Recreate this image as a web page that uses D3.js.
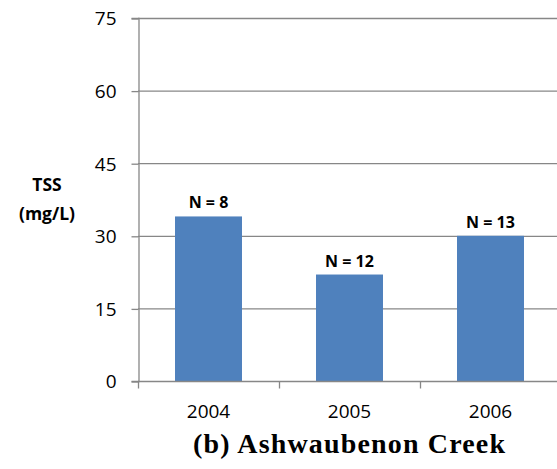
<!DOCTYPE html>
<html>
<head>
<meta charset="utf-8">
<script src="https://cdn.jsdelivr.net/npm/d3@7"></script>
<style>
  body { margin: 0; background: #fff; }
  text { font-family: "Open Sans", Lato, sans-serif; }
</style>
</head>
<body>
<script>
// chart data
let years = ["2004", "2005", "2006"];
let tss = [34, 22, 30];
let sampleCounts = ["N = 8", "N = 12", "N = 13"];
let yTicks = [0, 15, 30, 45, 60, 75];

let width = 557, height = 469;
let plotLeft = 138, plotRight = 561, plotTop = 18, plotBottom = 381;
let gridColor = "#878787";

let svg = d3.select("body").append("svg")
    .attr("width", width)
    .attr("height", height);

let x = d3.scaleBand()
    .domain(years)
    .range([plotLeft, plotRight])
    .paddingInner(0.525)
    .paddingOuter(0.2625);

let y = d3.scaleLinear()
    .domain([0, 75])
    .range([plotBottom, plotTop]);

// gridlines
svg.append("g")
    .selectAll("line")
    .data(yTicks.filter(d => d > 0))
    .join("line")
    .attr("x1", plotLeft)
    .attr("x2", plotRight)
    .attr("y1", d => y(d) + 0.5)
    .attr("y2", d => y(d) + 0.5)
    .attr("stroke", gridColor)
    .attr("stroke-width", 1.3);

// y axis
let yAxis = svg.append("g")
    .attr("transform", `translate(${plotLeft + 0.5},0)`)
    .call(d3.axisLeft(y).tickValues(yTicks).tickSize(7).tickPadding(15));
yAxis.select(".domain").attr("stroke", gridColor).attr("stroke-width", 1.3);
yAxis.selectAll(".tick line").attr("stroke", gridColor).attr("stroke-width", 1.3)
    .attr("transform", "translate(0,0.5)");
yAxis.selectAll(".tick text")
    .attr("font-size", 19)
    .attr("fill", "#000")
    .attr("dy", "0.36em")
    .style("font-family", "'Open Sans', sans-serif");

// bars
svg.append("g")
    .selectAll("rect")
    .data(years)
    .join("rect")
    .attr("x", d => x(d))
    .attr("y", (d, i) => y(tss[i]))
    .attr("width", x.bandwidth())
    .attr("height", (d, i) => plotBottom - y(tss[i]))
    .attr("fill", "#4f81bd");

// x axis
let xAxis = svg.append("g")
    .attr("transform", `translate(0,${plotBottom + 0.5})`)
    .call(d3.axisBottom(x).tickSize(0).tickPadding(24));
xAxis.select(".domain").remove();
xAxis.selectAll(".tick text")
    .attr("font-size", 19)
    .attr("fill", "#000")
    .attr("dy", "0.68em")
    .style("font-family", "'Open Sans', sans-serif");
xAxis.append("line")
    .attr("x1", plotLeft)
    .attr("x2", plotRight)
    .attr("stroke", gridColor)
    .attr("stroke-width", 1.3);
xAxis.selectAll(".sep")
    .data([0, 1, 2, 3])
    .join("line")
    .attr("class", "sep")
    .attr("x1", i => plotLeft + i * x.step() + 0.5)
    .attr("x2", i => plotLeft + i * x.step() + 0.5)
    .attr("y1", 0)
    .attr("y2", 7)
    .attr("stroke", gridColor)
    .attr("stroke-width", 1.3);

// N labels
svg.append("g")
    .selectAll("text")
    .data(years)
    .join("text")
    .attr("x", d => x(d) + x.bandwidth() / 2)
    .attr("y", (d, i) => y(tss[i]) - 8)
    .attr("text-anchor", "middle")
    .attr("font-size", 16)
    .attr("font-weight", "bold")
    .text((d, i) => sampleCounts[i]);

// y label
let ylab = svg.append("text")
    .attr("text-anchor", "middle")
    .attr("font-size", 17.5)
    .attr("font-weight", "bold");
ylab.append("tspan").attr("x", 47).attr("y", 191).text("TSS");
ylab.append("tspan").attr("x", 47).attr("y", 220).text("(mg/L)");

// title
svg.append("text")
    .attr("x", 349)
    .attr("y", 453)
    .attr("text-anchor", "middle")
    .attr("font-size", 28)
    .attr("font-weight", "bold")
    .attr("textLength", 312)
    .attr("lengthAdjust", "spacing")
    .style("font-family", "'Liberation Serif', 'DejaVu Serif', serif")
    .text("(b) Ashwaubenon Creek");
</script>
</body>
</html>
